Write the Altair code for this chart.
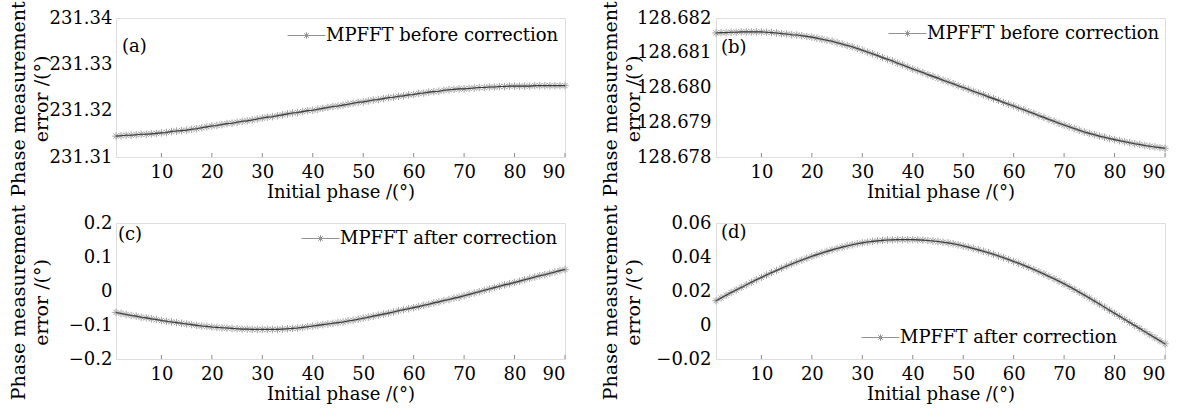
import altair as alt
import pandas as pd

# ---------------- data ----------------
phase = list(range(1, 91))

err_a = [
    231.3145, 231.3146, 231.3147, 231.3147, 231.3148, 231.3149, 231.3149, 231.3150, 231.3151, 231.3152,
    231.3153, 231.3155, 231.3156, 231.3157, 231.3158, 231.3160, 231.3161, 231.3163, 231.3165, 231.3167,
    231.3168, 231.3170, 231.3172, 231.3173, 231.3175, 231.3177, 231.3178, 231.3180, 231.3182, 231.3184,
    231.3186, 231.3187, 231.3189, 231.3191, 231.3193, 231.3195, 231.3196, 231.3198, 231.3200, 231.3201,
    231.3203, 231.3205, 231.3207, 231.3209, 231.3210, 231.3212, 231.3214, 231.3216, 231.3218, 231.3219,
    231.3221, 231.3223, 231.3224, 231.3226, 231.3228, 231.3229, 231.3231, 231.3232, 231.3234, 231.3235,
    231.3237, 231.3238, 231.3240, 231.3241, 231.3242, 231.3244, 231.3245, 231.3246, 231.3247, 231.3247,
    231.3248, 231.3249, 231.3250, 231.3250, 231.3251, 231.3251, 231.3252, 231.3252, 231.3253, 231.3253,
    231.3253, 231.3253, 231.3253, 231.3254, 231.3254, 231.3254, 231.3254, 231.3254, 231.3254, 231.3254,
]

err_b = [
    128.68157, 128.68158, 128.68158, 128.68159, 128.68159, 128.68160, 128.68160, 128.68160, 128.68160, 128.68160,
    128.68159, 128.68158, 128.68157, 128.68155, 128.68154, 128.68152, 128.68151, 128.68149, 128.68147, 128.68145,
    128.68142, 128.68139, 128.68136, 128.68133, 128.68129, 128.68125, 128.68121, 128.68117, 128.68112, 128.68107,
    128.68102, 128.68097, 128.68092, 128.68086, 128.68081, 128.68076, 128.68070, 128.68065, 128.68059, 128.68053,
    128.68048, 128.68043, 128.68037, 128.68032, 128.68027, 128.68021, 128.68016, 128.68011, 128.68005, 128.68000,
    128.67995, 128.67989, 128.67984, 128.67979, 128.67973, 128.67968, 128.67963, 128.67957, 128.67952, 128.67947,
    128.67941, 128.67936, 128.67930, 128.67925, 128.67919, 128.67914, 128.67908, 128.67903, 128.67897, 128.67892,
    128.67887, 128.67882, 128.67877, 128.67872, 128.67868, 128.67864, 128.67860, 128.67857, 128.67853, 128.67850,
    128.67847, 128.67844, 128.67841, 128.67838, 128.67836, 128.67833, 128.67831, 128.67829, 128.67827, 128.67825,
]

err_c = [
    -0.063, -0.066, -0.069, -0.072, -0.074, -0.077, -0.079, -0.082, -0.084, -0.087,
    -0.089, -0.091, -0.093, -0.095, -0.097, -0.099, -0.101, -0.103, -0.104, -0.106,
    -0.107, -0.108, -0.109, -0.110, -0.111, -0.112, -0.112, -0.113, -0.113, -0.113,
    -0.113, -0.113, -0.113, -0.112, -0.111, -0.110, -0.109, -0.107, -0.105, -0.103,
    -0.101, -0.099, -0.097, -0.095, -0.093, -0.091, -0.088, -0.086, -0.083, -0.080,
    -0.077, -0.074, -0.071, -0.068, -0.065, -0.062, -0.058, -0.055, -0.052, -0.049,
    -0.046, -0.042, -0.039, -0.035, -0.032, -0.028, -0.025, -0.021, -0.018, -0.014,
    -0.010, -0.006, -0.002, 0.002, 0.006, 0.010, 0.014, 0.018, 0.021, 0.025,
    0.029, 0.033, 0.037, 0.041, 0.045, 0.048, 0.052, 0.056, 0.060, 0.063,
]

err_d = [
    0.0143, 0.0159, 0.0175, 0.0191, 0.0206, 0.0221, 0.0236, 0.0251, 0.0266, 0.0280,
    0.0294, 0.0308, 0.0321, 0.0334, 0.0347, 0.0359, 0.0371, 0.0382, 0.0393, 0.0404,
    0.0414, 0.0424, 0.0433, 0.0442, 0.0450, 0.0458, 0.0465, 0.0472, 0.0478, 0.0483,
    0.0488, 0.0492, 0.0495, 0.0498, 0.0500, 0.0501, 0.0502, 0.0502, 0.0502, 0.0502,
    0.0501, 0.0499, 0.0497, 0.0494, 0.0491, 0.0487, 0.0483, 0.0478, 0.0472, 0.0465,
    0.0458, 0.0450, 0.0442, 0.0434, 0.0425, 0.0416, 0.0406, 0.0396, 0.0385, 0.0374,
    0.0363, 0.0351, 0.0339, 0.0326, 0.0313, 0.0300, 0.0286, 0.0272, 0.0257, 0.0242,
    0.0226, 0.0210, 0.0193, 0.0176, 0.0159, 0.0141, 0.0123, 0.0105, 0.0087, 0.0069,
    0.0051, 0.0033, 0.0015, -0.0003, -0.0021, -0.0039, -0.0057, -0.0075, -0.0093, -0.0111,
]

x_ticks = [10, 20, 30, 40, 50, 60, 70, 80, 90]
ticks_a = [231.31, 231.32, 231.33, 231.34]
ticks_b = [128.678, 128.679, 128.680, 128.681, 128.682]
ticks_c = [-0.2, -0.1, 0, 0.1, 0.2]
ticks_d = [-0.02, 0, 0.02, 0.04, 0.06]

name_before = "MPFFT before correction"
name_after = "MPFFT after correction"
x_title = "Initial phase /(°)"
y_title = ["Phase measurement", "error /(°)"]

# ---------------- styling ----------------
FONT = "DejaVu Serif"
W = 449
STAR = "M-1,0L1,0M0,-1L0,1M-0.7,-0.7L0.7,0.7M-0.7,0.7L0.7,-0.7"
LEG = ("M-1,0L1,0M-0.17,0L0.17,0M0,-0.17L0,0.17"
       "M-0.12,-0.12L0.12,0.12M-0.12,0.12L0.12,-0.12")


def panel(vals, name, tag, dom, yticks, fmt, h, legx, legy, tagx, tagy, ttx, lpad):
    df = pd.DataFrame({"phase": phase, "err": vals, "series": name})
    tick_df = pd.DataFrame({"phase": x_ticks})
    tag_df = pd.DataFrame({"tag": [tag]})

    x = alt.X(
        "phase:Q",
        scale=alt.Scale(domain=[1, 90], nice=False, zero=False),
        axis=alt.Axis(
            values=x_ticks, title=x_title, domain=False, ticks=False, grid=False,
            labelFont=FONT, labelFontSize=18, labelColor="black", labelPadding=6,
            titleFont=FONT, titleFontSize=18, titleFontWeight="normal",
            titleColor="black", titlePadding=2,
        ),
    )
    y = alt.Y(
        "err:Q",
        scale=alt.Scale(domain=dom, nice=False, zero=False),
        axis=alt.Axis(
            values=yticks, format=fmt,
            labelExpr="datum.value == 0 ? '0' : datum.label",
            title=y_title, domain=False, ticks=False, grid=False,
            labelFont=FONT, labelFontSize=18, labelColor="black", labelPadding=lpad,
            titleFont=FONT, titleFontSize=19, titleFontWeight="normal",
            titleColor="black", titleLineHeight=23, titleAngle=270,
            titleAlign="center", titleBaseline="bottom",
            titleX=ttx, titleY=h / 2 + 11,
        ),
    )

    pts = alt.Chart(df).mark_point(
        shape=STAR, size=56, filled=False, color="#a0a0a0", strokeWidth=1, opacity=1
    ).encode(x=x, y=y)

    line = alt.Chart(df).mark_line(strokeWidth=1.1).encode(
        x=x, y=y,
        color=alt.Color(
            "series:N",
            scale=alt.Scale(range=["#3a3a3a"]),
            legend=alt.Legend(
                title=None, orient="none", legendX=legx, legendY=legy,
                symbolType=LEG, symbolSize=1444, symbolStrokeWidth=1,
                symbolOpacity=0.55,
                symbolFillColor="transparent", labelFont=FONT, labelFontSize=18,
                labelColor="black", labelOffset=0, padding=0, labelLimit=400,
            ),
        ),
    )

    ticks = alt.Chart(tick_df).mark_rule(color="#8a8a8a", strokeWidth=1).encode(
        x=x, y=alt.value(h), y2=alt.value(h - 4)
    )

    label = alt.Chart(tag_df).mark_text(
        align="left", baseline="middle", font=FONT, fontSize=18, color="black"
    ).encode(x=alt.value(tagx), y=alt.value(tagy), text="tag:N")

    return alt.layer(pts, line, ticks, label).properties(width=W, height=h)


a = panel(err_a, name_before, "(a)", [231.31, 231.34], ticks_a, ".2f", 139,
          171, -2, 6, 29, -88, 4)
b = panel(err_b, name_before, "(b)", [128.678, 128.682], ticks_b, ".3f", 139,
          172, -4, 5, 30, -96, 5)
c = panel(err_c, name_after, "(c)", [-0.2, 0.2], ticks_c, ".1f", 136,
          185, -4, 2, 12, -88, 4)
d = panel(err_d, name_after, "(d)", [-0.02, 0.06], ticks_d, ".2f", 136,
          145, 95, 5, 10, -96, 5)

chart = alt.concat(
    a, b, c, d, columns=2, spacing={"row": 66, "column": 151}
).resolve_scale(color="independent").properties(
    bounds="flush", padding={"left": 8, "top": 0, "right": 5, "bottom": 5}
).configure_view(stroke="#8a8a8a", strokeWidth=1).configure(background="white")

chart.save("out.html", embed_options={"renderer": "svg", "actions": False})
